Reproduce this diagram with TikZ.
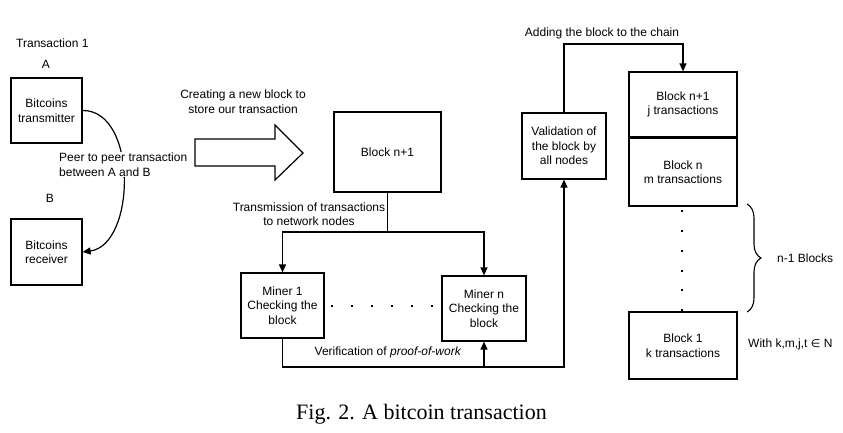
\documentclass[tikz,border=0pt]{standalone}
\usepackage{fontspec}
\setmainfont{Liberation Sans}
\newfontfamily\capfont{Liberation Serif}
\newfontfamily\symfont{DejaVu Sans}
\usetikzlibrary{arrows.meta,decorations.pathreplacing}
\begin{document}
\begin{tikzpicture}[x=1pt,y=-1pt,
  every node/.style={font=\fontsize{12}{14.5}\selectfont, inner sep=0pt},
  box/.style={draw, line width=1.2pt, align=center},
  lbl/.style={align=center},
  line/.style={line width=1.2pt},
  arr/.style={line width=1.2pt, -{Triangle[length=8pt,width=7pt]}},
  dot/.style={rectangle, fill, inner sep=0pt, minimum size=2.6pt}]
\useasboundingbox (0,0) rectangle (843,432);

% left part
\node[anchor=west] (t1) at (16,43) {Transaction 1};
\node (la) at (46,64) {A};
\node (lb) at (50,198) {B};
\node[box, minimum width=71pt, minimum height=65pt] (tx) at (46.5,110.5) {Bitcoins\\transmitter};
\node[box, minimum width=71pt, minimum height=66pt] (rx) at (46.5,252) {Bitcoins\\receiver};
\draw[arr] (tx.east) .. controls (138,110) and (136,245) .. (rx.east);
\node[anchor=west, align=left, fill=white, inner sep=1pt] (peer) at (58,164.5) {Peer to peer transaction\\between A and B};

% big arrow
\draw[line width=1.2pt, line join=miter] (195,139) -- (275,139) -- (275,125) -- (303,153) -- (275,180) -- (275,166) -- (195,166) -- cycle;
\node[lbl] (create) at (243,101.5) {Creating a new block to\\store our transaction};

% new block and miners
\node[box, minimum width=107pt, minimum height=80pt] (blk) at (387.5,152) {Block n+1};
\node[lbl] (trans) at (309,214) {Transmission of transactions\\to network nodes};
\node[box, minimum width=83pt, minimum height=65pt] (m1) at (282.5,305.5) {Miner 1\\Checking the\\block};
\node[box, minimum width=84pt, minimum height=65pt] (mn) at (484,308.5) {Miner n\\Checking the\\block};
\foreach \i in {0,...,5} {\node[dot] (md\i) at (332+20*\i,306) {};}
\coordinate (split) at (387.5,232);
\draw[line] (blk.south) -- (split);
\draw[arr] (split) -| (m1.north);
\draw[arr] (split) -| (mn.north);

% verification
\node[box, minimum width=84pt, minimum height=66pt] (val) at (564,146) {Validation of\\the block by\\all nodes};
\coordinate (b1) at (564,367);
\draw[arr] (m1.south) |- (b1) -- (val.south);
\draw[arr] (mn.south |- b1) -- (mn.south);
\node (verif) at (388,352) {Verification of \textit{proof-of-work}};

% chain
\node[box, minimum width=108pt, minimum height=65pt] (c1) at (683,104.5) {Block n+1\\j transactions};
\node[box, minimum width=108pt, minimum height=68pt] (c2) at (683,172) {Block n\\m transactions};
\node[box, minimum width=108pt, minimum height=67pt] (c3) at (683,345.5) {Block 1\\k transactions};
\foreach \y [count=\i] in {211,231,251,271,290,310} {\node[dot] (cd\i) at (682,\y) {};}
\coordinate (top) at (683,44);
\draw[arr] (val.north) |- (top) -- (c1.north);
\node (adding) at (602,33) {Adding the block to the chain};

\draw[line width=1.1pt, decorate, decoration={brace, amplitude=14pt}] (747,204) -- (747,312);
\node[anchor=west] (nb) at (777,258) {n-1 Blocks};
\node[anchor=west] (with) at (748,344) {With k,m,j,t {\symfont\fontsize{11}{14}\selectfont ∈} N};

% caption
\node[font=\capfont\fontsize{22}{26}\selectfont] (cap) at (421.5,414) {Fig. 2. A bitcoin transaction};
\end{tikzpicture}
\end{document}
